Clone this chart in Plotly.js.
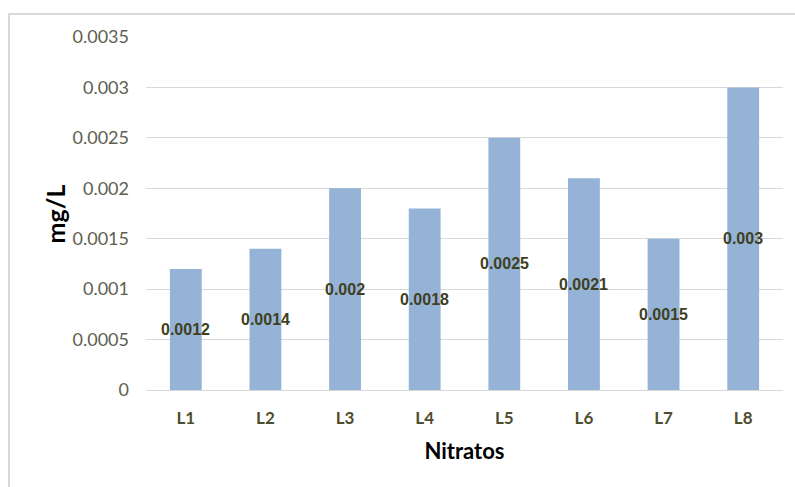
<!DOCTYPE html>
<html>
<head>
<meta charset="utf-8">
<script src="https://cdn.plot.ly/plotly-3.0.1.min.js"></script>
<style>
  html, body { margin: 0; padding: 0; background: #ffffff; }
  #frame { position: absolute; left: 8px; top: 13px; width: 820px; height: 520px;
           border: 2px solid #d9d9d9; box-sizing: border-box; }
  #chart { position: absolute; left: 0; top: 0; width: 795px; height: 487px; }
</style>
</head>
<body>
<div id="frame"></div>
<div id="chart"></div>
<script>
// Nitrate concentration per sample
const categories = ["L1", "L2", "L3", "L4", "L5", "L6", "L7", "L8"];
const values = [0.0012, 0.0014, 0.002, 0.0018, 0.0025, 0.0021, 0.0015, 0.003];
const yTicks = [0, 0.0005, 0.001, 0.0015, 0.002, 0.0025, 0.003, 0.0035];
const yTickLabels = ["0", "0.0005", "0.001", "0.0015", "0.002", "0.0025", "0.003", "0.0035"];

const trace = {
  type: "bar",
  x: categories,
  y: values,
  marker: { color: "#95b3d7" },
  hoverinfo: "x+y"
};

// value labels centred inside each bar
const labels = categories.map((c, i) => ({
  x: c,
  y: values[i] / 2,
  xref: "x",
  yref: "y",
  text: "<b>" + String(values[i]) + "</b>",
  showarrow: false,
  font: { family: "Liberation Sans Narrow, Arial Narrow, Liberation Sans, sans-serif", size: 16, color: "#3f3f22" }
}));

// y-axis title, placed to the left of the tick labels
labels.push({
  xref: "paper",
  yref: "paper",
  x: -0.143,
  y: 0.5,
  xanchor: "center",
  yanchor: "middle",
  textangle: -90,
  text: "<b>mg/L</b>",
  showarrow: false,
  font: { family: "Lato, sans-serif", size: 25, color: "#000000" }
});

const layout = {
  width: 795,
  height: 487,
  margin: { l: 146, r: 12, t: 37, b: 97 },
  paper_bgcolor: "rgba(0,0,0,0)",
  plot_bgcolor: "rgba(0,0,0,0)",
  bargap: 0.6,
  showlegend: false,
  font: { family: "Lato, sans-serif" },
  xaxis: {
    type: "category",
    showline: true,
    linecolor: "#d9d9d9",
    linewidth: 1,
    showgrid: false,
    ticks: "",
    ticklabelstandoff: 13,
    tickfont: { family: "Lato, sans-serif", size: 17, color: "#4d4d2f", weight: "bold" },
    title: { text: "<b>Nitratos</b>", standoff: 16, font: { family: "Lato, sans-serif", size: 22, color: "#000000" } }
  },
  yaxis: {
    range: [0, 0.0035],
    tickvals: yTicks,
    ticktext: yTickLabels,
    showgrid: true,
    gridcolor: "#d9d9d9",
    gridwidth: 1,
    zeroline: false,
    showline: false,
    ticks: "",
    ticklabelstandoff: 16,
    tickfont: { family: "Lato, sans-serif", size: 18, color: "#5e5e50" }
  },
  annotations: labels
};

Plotly.newPlot("chart", [trace], layout, { displayModeBar: false, staticPlot: true });
</script>
</body>
</html>
